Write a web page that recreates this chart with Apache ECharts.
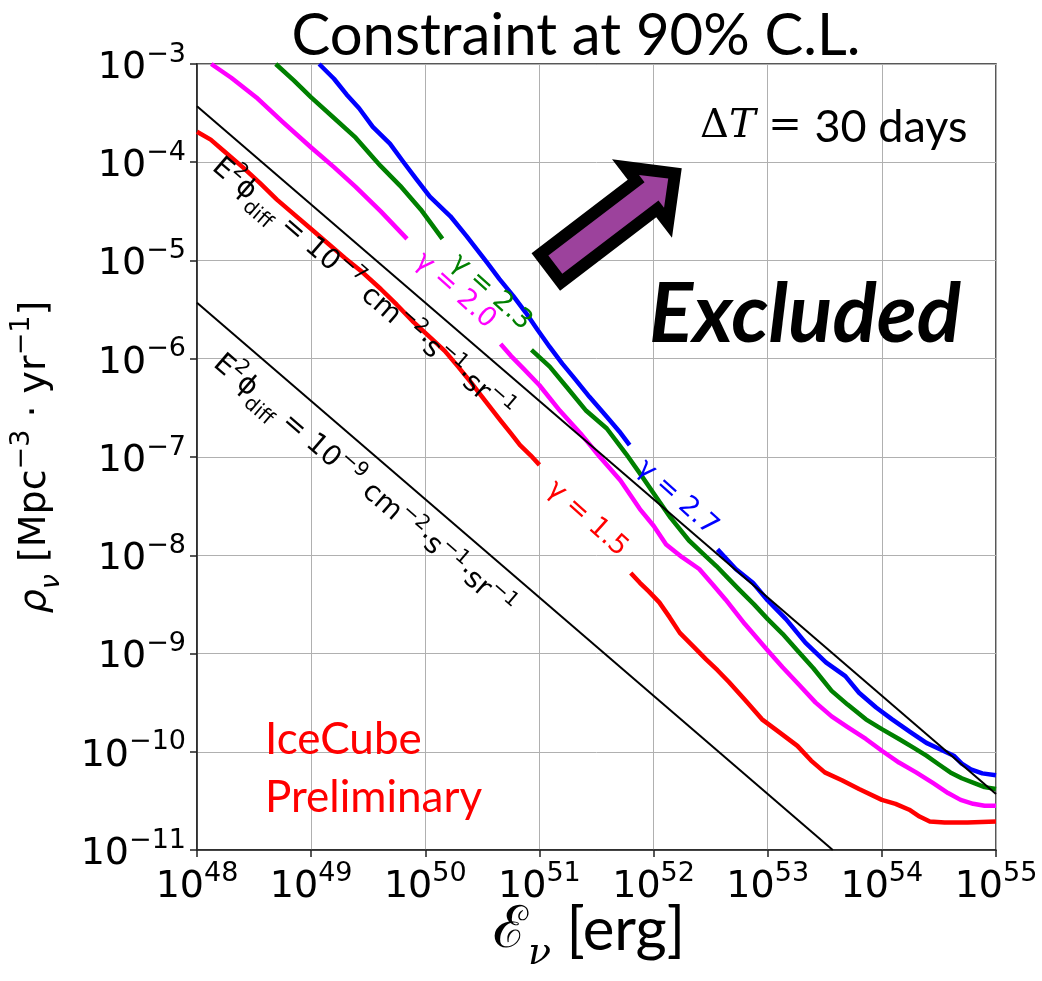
<!DOCTYPE html>
<html>
<head>
<meta charset="utf-8">
<script src="https://cdn.jsdelivr.net/npm/echarts@6/dist/echarts.min.js"></script>
<style>
html,body{margin:0;padding:0;background:#fff;}
#c{width:1042px;height:981px;}
</style>
</head>
<body>
<div id="c"></div>
<script>
// ---- axis ticks (decade exponents) ----
const xTickExponents = [48, 49, 50, 51, 52, 53, 54, 55];        // E_nu [erg] = 10^n
const yTickExponents = [-11, -10, -9, -8, -7, -6, -5, -4, -3]; // rho_nu = 10^n

// ---- curves: [log10 E (erg), log10 rho (Mpc^-3 yr^-1)], null = gap left for the label ----
const gamma15 = [
  [48.00,-3.69],[48.12,-3.77],[48.23,-3.88],[48.40,-4.05],[48.55,-4.21],[48.70,-4.38],[48.81,-4.49],
  [49.00,-4.68],[49.15,-4.83],[49.30,-4.98],[49.45,-5.12],[49.61,-5.29],[49.75,-5.45],[49.90,-5.63],
  [50.05,-5.79],[50.17,-5.92],[50.28,-6.07],[50.40,-6.24],[50.52,-6.42],[50.66,-6.63],[50.75,-6.76],
  [50.83,-6.88],[50.92,-6.98],[51.00,-7.08],
  null,
  [51.80,-8.18],[51.88,-8.28],[51.96,-8.37],[52.05,-8.48],[52.14,-8.63],[52.23,-8.79],[52.35,-8.93],
  [52.46,-9.06],[52.56,-9.17],[52.66,-9.29],[52.80,-9.47],[52.95,-9.67],[53.10,-9.80],[53.26,-9.94],
  [53.38,-10.09],[53.50,-10.21],[53.65,-10.29],[53.80,-10.38],[54.00,-10.49],[54.12,-10.53],[54.24,-10.59],
  [54.33,-10.66],[54.42,-10.71],[54.55,-10.72],[54.75,-10.72],[55.00,-10.71]
];
const gamma20 = [
  [48.125,-3.00],[48.30,-3.14],[48.52,-3.34],[48.75,-3.59],[49.00,-3.85],[49.20,-4.05],[49.39,-4.25],
  [49.61,-4.50],[49.84,-4.78],
  null,
  [50.66,-5.85],[50.75,-5.97],[50.86,-6.10],[51.00,-6.27],[51.18,-6.53],[51.36,-6.76],[51.53,-7.00],
  [51.71,-7.24],[51.88,-7.53],[52.00,-7.70],[52.11,-7.89],[52.25,-8.02],[52.40,-8.14],[52.52,-8.30],
  [52.63,-8.45],[52.80,-8.70],[53.00,-8.97],[53.13,-9.14],[53.26,-9.30],[53.42,-9.50],[53.56,-9.64],
  [53.70,-9.75],[53.86,-9.87],[54.00,-9.99],[54.15,-10.11],[54.30,-10.21],[54.45,-10.32],[54.58,-10.42],
  [54.69,-10.49],[54.80,-10.53],[54.90,-10.55],[55.00,-10.55]
];
const gamma23 = [
  [48.69,-3.00],[48.85,-3.17],[49.00,-3.34],[49.20,-3.55],[49.39,-3.75],[49.54,-3.95],[49.61,-4.04],
  [49.78,-4.24],[49.96,-4.48],[50.15,-4.78],
  null,
  [50.93,-5.91],[51.09,-6.08],[51.24,-6.29],[51.41,-6.53],[51.59,-6.71],[51.76,-6.97],[51.90,-7.20],
  [52.03,-7.42],[52.15,-7.62],[52.31,-7.85],[52.43,-7.98],[52.55,-8.11],[52.65,-8.23],[52.75,-8.35],
  [52.88,-8.50],[53.00,-8.65],[53.13,-8.80],[53.26,-8.97],[53.40,-9.15],[53.56,-9.38],[53.70,-9.52],
  [53.86,-9.67],[54.00,-9.77],[54.15,-9.87],[54.28,-9.96],[54.39,-10.04],[54.50,-10.13],[54.60,-10.21],
  [54.70,-10.27],[54.81,-10.32],[54.90,-10.36],[55.00,-10.38]
];
const gamma27 = [
  [49.07,-3.00],[49.20,-3.15],[49.31,-3.31],[49.42,-3.45],[49.54,-3.64],[49.69,-3.81],[49.81,-4.00],
  [49.92,-4.17],[50.04,-4.35],[50.22,-4.55],[50.36,-4.75],[50.54,-5.02],[50.65,-5.19],[50.77,-5.36],
  [50.88,-5.53],[50.98,-5.70],[51.09,-5.88],[51.20,-6.05],[51.30,-6.19],[51.44,-6.39],[51.59,-6.59],
  [51.70,-6.74],[51.79,-6.88],
  null,
  [52.56,-7.94],[52.72,-8.14],[52.87,-8.28],[53.00,-8.46],[53.16,-8.65],[53.33,-8.89],[53.51,-9.09],
  [53.68,-9.23],[53.80,-9.40],[53.95,-9.55],[54.09,-9.67],[54.25,-9.80],[54.39,-9.91],[54.50,-9.97],
  [54.63,-10.04],[54.70,-10.12],[54.78,-10.18],[54.88,-10.22],[55.00,-10.24]
];
// reference lines E^2 phi_diff = const  (rho proportional to 1/E)
const diffuse1e7 = [[48.00,-3.43],[55.00,-10.43]];
const diffuse1e9 = [[48.00,-5.43],[53.57,-11.00]];

// ---- labels ----
const curveNames = ['\u03b3 = 1.5', '\u03b3 = 2.0', '\u03b3 = 2.3', '\u03b3 = 2.7'];
const titleText = 'Constraint at 90% C.L.';

const FONT = 'DejaVu Sans';
const CAL = 'Lato';

function mathRich(F, color, family, withSub) {
  const pt = Math.round(0.21 * F), pb = withSub ? Math.round(0.3 * F) : 0;
  const fs = Math.round(0.7 * F);
  const base = {fontSize: F, fontFamily: family, color: color, fill: color, padding: [pt, 0, pb, 0], verticalAlign: 'bottom'};
  return {
    b: base,
    i: Object.assign({}, base, {fontStyle: 'italic'}),
    p: {fontSize: fs, fontFamily: family, color: color, fill: color, verticalAlign: 'top'},
    d: {fontSize: fs, fontFamily: family, color: color, fill: color, verticalAlign: 'bottom'},
    s: {fontSize: fs, fontFamily: family, color: color, fill: color, fontStyle: 'italic', verticalAlign: 'bottom'}
  };
}
function expLabel(v) {
  const n = Math.round(Math.log10(v));
  return '{b|10}{p|' + (n < 0 ? '\u2212' + (-n) : String(n)) + '}';
}

const chart = echarts.init(document.getElementById('c'), null, {renderer: 'canvas', width: 1042, height: 981});

function segments(curve) {
  const segs = [[]];
  curve.forEach(p => {
    if (p === null) segs.push([]);
    else segs[segs.length - 1].push([Math.pow(10, p[0]), Math.pow(10, p[1])]);
  });
  return segs.filter(s => s.length > 1);
}

const curves = [
  {data: gamma15, color: '#ff0000'},
  {data: gamma20, color: '#ff00ff'},
  {data: gamma23, color: '#008000'},
  {data: gamma27, color: '#0000ff'}
];
const series = [];
curves.forEach((c, ci) => {
  segments(c.data).forEach(seg => {
    series.push({
      type: 'line', name: curveNames[ci], data: seg, symbol: 'none', showSymbol: false,
      lineStyle: {color: c.color, width: 4.5, join: 'round'}, silent: true, animation: false, z: 2, clip: true
    });
  });
});
[diffuse1e7, diffuse1e9].forEach(d => {
  series.push({
    type: 'line', data: d.map(p => [Math.pow(10, p[0]), Math.pow(10, p[1])]), symbol: 'none', showSymbol: false,
    lineStyle: {color: '#000', width: 2}, silent: true, animation: false, z: 3, clip: true
  });
});

const tickRich = mathRich(38, '#000', FONT, false);
const axisCommon = {
  type: 'log', logBase: 10,
  axisLine: {show: true, lineStyle: {color: '#222', width: 1.5}},
  axisTick: {show: true, inside: false, length: 7, lineStyle: {color: '#222', width: 1.5}},
  minorTick: {show: false},
  splitLine: {show: true, lineStyle: {color: '#b0b0b0', width: 1}},
  minorSplitLine: {show: false}
};

chart.setOption({
  animation: false,
  backgroundColor: '#fff',
  grid: {left: 197, top: 64, width: 799, height: 786, show: true, borderColor: '#222', borderWidth: 1.5,
         backgroundColor: 'transparent', containLabel: false, outerBoundsMode: 'none'},
  xAxis: Object.assign({}, axisCommon, {
    min: Math.pow(10, xTickExponents[0]), max: Math.pow(10, xTickExponents[xTickExponents.length - 1]),
    splitNumber: xTickExponents.length - 1,
    axisLabel: {margin: 10, formatter: expLabel, rich: tickRich, showMinLabel: true, showMaxLabel: true, hideOverlap: false}
  }),
  yAxis: Object.assign({}, axisCommon, {
    min: Math.pow(10, yTickExponents[0]), max: Math.pow(10, yTickExponents[yTickExponents.length - 1]),
    splitNumber: yTickExponents.length - 1,
    axisLabel: {margin: 11, formatter: expLabel, rich: tickRich, showMinLabel: true, showMaxLabel: true, hideOverlap: false}
  }),
  series: series
});

// ---- annotations ----
const px = (e, r) => chart.convertToPixel({gridIndex: 0}, [Math.pow(10, e), Math.pow(10, r)]);
const a0 = px(diffuse1e7[0][0], diffuse1e7[0][1]);
const a1 = px(diffuse1e7[1][0], diffuse1e7[1][1]);
const lineAngle = Math.atan2(a1[1] - a0[1], a1[0] - a0[0]);
const gammaAngle = 42 * Math.PI / 180;

function txt(x, y, text, rich, rot, extraStyle) {
  return {
    type: 'text', x: x, y: y, rotation: rot || 0, silent: true, z: 100,
    style: Object.assign({text: text, rich: rich, align: 'center', verticalAlign: 'middle'}, extraStyle || {})
  };
}

const diffRich = mathRich(28, '#000', FONT, true);
const diffLabels = [
  {at: [49.440, -5.300], text: '{b|E}{p|2}{b|\u03d5}{d|diff}{b| = 10}{p|\u22127}{b| cm}{p|\u22122}{b|\u00b7s}{p|\u22121}{b|\u00b7sr}{p|\u22121}'},
  {at: [49.450, -7.300], text: '{b|E}{p|2}{b|\u03d5}{d|diff}{b| = 10}{p|\u22129}{b| cm}{p|\u22122}{b|\u00b7s}{p|\u22121}{b|\u00b7sr}{p|\u22121}'}
];
const gammaLabels = [
  {at: [51.418, -7.629], color: '#ff0000', name: curveNames[0]},
  {at: [50.261, -5.309], color: '#ff00ff', name: curveNames[1]},
  {at: [50.577, -5.325], color: '#008000', name: curveNames[2]},
  {at: [52.207, -7.415], color: '#0000ff', name: curveNames[3]}
];

const graphics = [];
diffLabels.forEach(l => {
  const p = px(l.at[0], l.at[1]);
  graphics.push(txt(p[0], p[1], l.text, diffRich, -lineAngle));
});
gammaLabels.forEach(l => {
  const p = px(l.at[0], l.at[1]);
  graphics.push(txt(p[0], p[1], l.name, null, -gammaAngle, {fill: l.color, fontSize: 27, fontFamily: FONT}));
});

// title
graphics.push(txt(576, 36, titleText, null, 0, {fill: '#000', fontSize: 58, fontFamily: CAL}));
// x axis name
graphics.push(txt(589, 937, '{a|\u2130}{s|\u03bd}{b| [erg]}', {
  a: {fontSize: 58, fontFamily: 'DejaVu Serif', fill: '#000', padding: [0, 0, 12, 0], verticalAlign: 'bottom'},
  s: {fontSize: 38, fontFamily: 'DejaVu Serif', fontStyle: 'italic', fill: '#000', verticalAlign: 'bottom'},
  b: {fontSize: 60, fontFamily: CAL, fill: '#000', padding: [0, 0, 12, 0], verticalAlign: 'bottom'}
}, 0));
// y axis name
graphics.push(txt(37, 457, '{i|\u03c1}{s|\u03bd}{b| [Mpc}{p|\u22123}{b| \u00b7 yr}{p|\u22121}{b|]}', mathRich(38, '#000', FONT, true), Math.PI / 2));
// Delta T
graphics.push({
  type: 'text', x: 700, y: 127, silent: true, z: 100,
  style: {text: '{d|\u0394}{t|T}{e| = }{r|30 days}', align: 'left', verticalAlign: 'middle', rich: {
    d: {fontSize: 40, fontFamily: 'DejaVu Serif', fill: '#000'},
    t: {fontSize: 40, fontFamily: 'DejaVu Serif', fontStyle: 'italic', fill: '#000'},
    e: {fontSize: 40, fontFamily: 'DejaVu Serif', fill: '#000'},
    r: {fontSize: 45, fontFamily: CAL, fill: '#000'}
  }}
});
// Excluded
graphics.push(txt(805, 316, 'Excluded', null, 0, {fill: '#000', fontSize: 82, fontFamily: CAL, fontWeight: 'bold', fontStyle: 'italic',
  shadowColor: 'rgba(0,0,0,0.45)', shadowBlur: 6, shadowOffsetX: 3, shadowOffsetY: 3}));
// IceCube Preliminary
graphics.push({type: 'text', x: 265, y: 740, silent: true, z: 100,
  style: {text: 'IceCube', fill: '#ff0000', fontSize: 44, fontFamily: CAL, align: 'left', verticalAlign: 'middle'}});
graphics.push({type: 'text', x: 265, y: 798, silent: true, z: 100,
  style: {text: 'Preliminary', fill: '#ff0000', fontSize: 44, fontFamily: CAL, align: 'left', verticalAlign: 'middle'}});

// arrow
(function () {
  const T = [545.8, 272], U = [0.795, -0.607], N = [0.607, 0.795];
  const P = (u, v) => [T[0] + u * U[0] + v * N[0], T[1] + u * U[1] + v * N[1]];
  const outer = [[0,-23.5],[121,-23.5],[121,-49.4],[171,0],[121,49.4],[121,23.5],[0,23.5]].map(a => P(a[0], a[1]));
  const inner = [[12,-11.5],[133,-11.5],[133,-20.6],[154,0],[133,20.6],[133,11.5],[12,11.5]].map(a => P(a[0], a[1]));
  graphics.push({type: 'polygon', shape: {points: outer}, style: {fill: '#000'}, silent: true, z: 90});
  graphics.push({type: 'polygon', shape: {points: inner}, style: {fill: '#9c429c'}, silent: true, z: 91});
})();

chart.setOption({graphic: graphics});
</script>
</body>
</html>
